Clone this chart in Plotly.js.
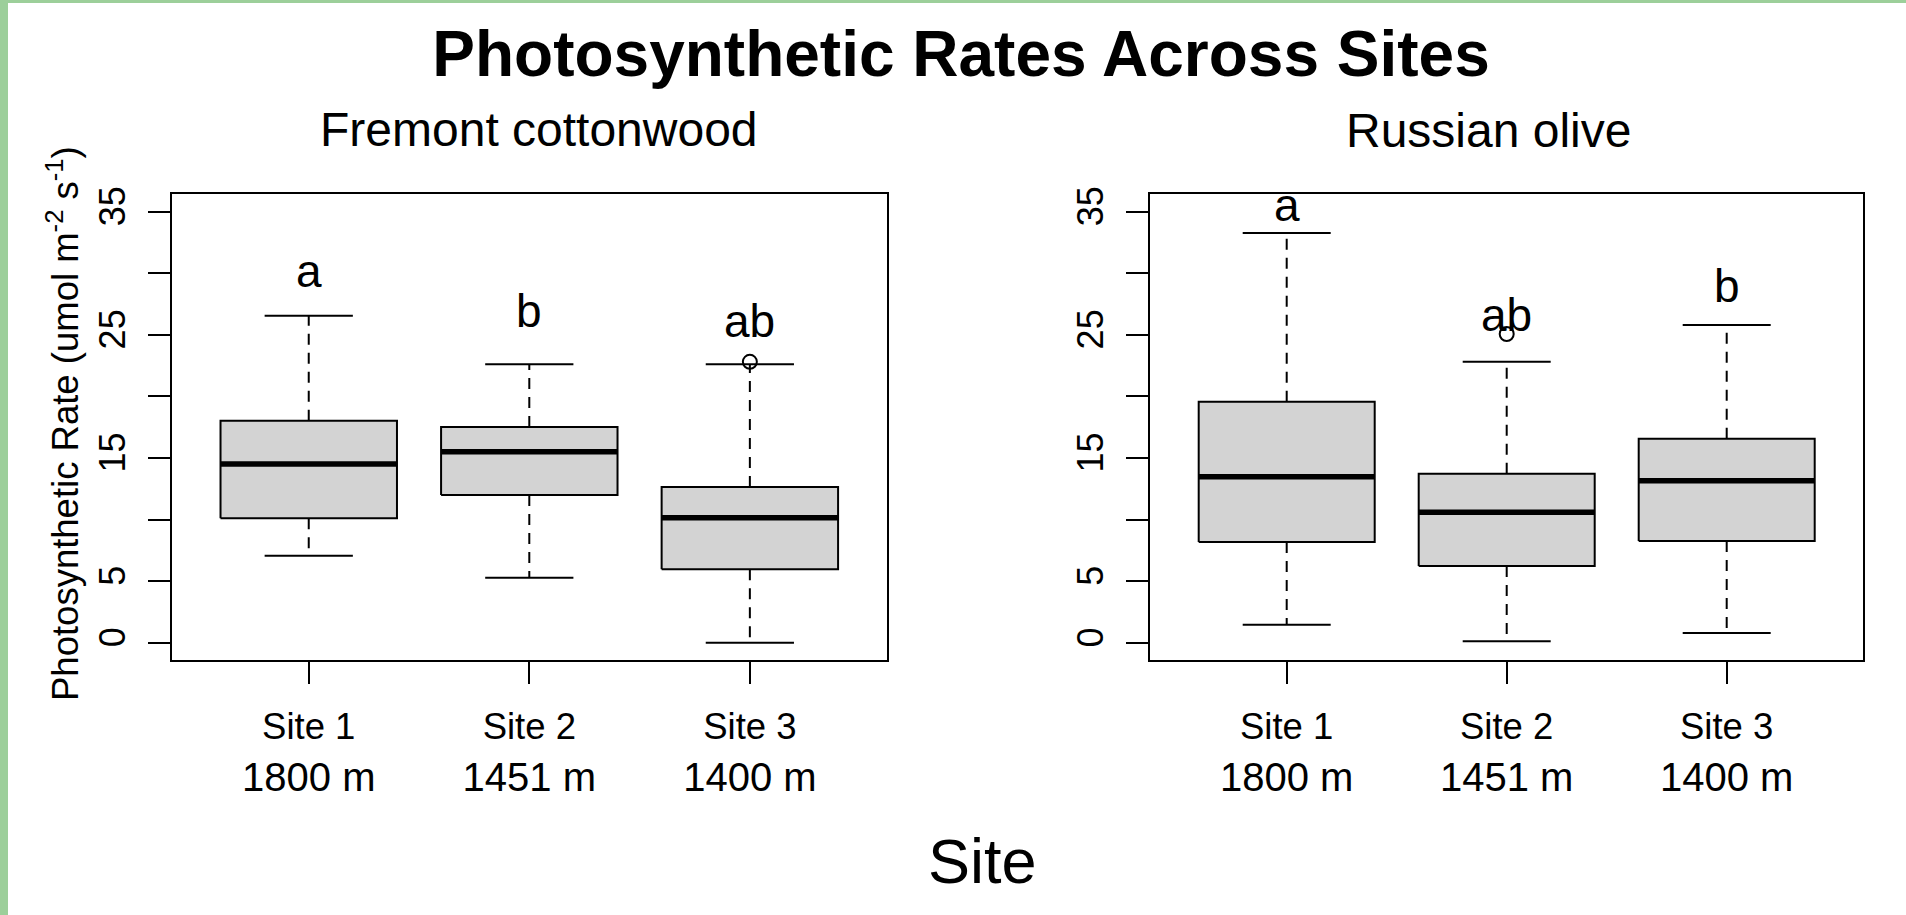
<!DOCTYPE html>
<html>
<head>
<meta charset="utf-8">
<script src="https://cdn.plot.ly/plotly-3.0.1.min.js"></script>
<style>
  html, body { margin: 0; padding: 0; background: #ffffff; }
  #chart { width: 1906px; height: 915px; }
</style>
</head>
<body>
<div id="chart"></div>
<script>
// Site categories and elevations (x tick labels)
const sites = ['Site 1', 'Site 2', 'Site 3'];
const elevations = ['1800 m', '1451 m', '1400 m'];
const sitePos = [1, 2, 3];

// Fremont cottonwood: five-number summaries per site
const fcLower  = [7.07, 5.28, 0.00];
const fcQ1     = [10.10, 11.99, 5.96];
const fcMedian = [14.51, 15.51, 10.15];
const fcQ3     = [18.02, 17.51, 12.64];
const fcUpper  = [26.55, 22.60, 22.60];
const fcOutliers = [[], [], [22.80]];
const fcLetters = ['a', 'b', 'ab'];
const fcLetterY = [30.15, 26.96, 26.09];

// Russian olive: five-number summaries per site
const roLower  = [1.47, 0.12, 0.79];
const roQ1     = [8.18, 6.23, 8.26];
const roMedian = [13.48, 10.59, 13.15];
const roQ3     = [19.57, 13.72, 16.56];
const roUpper  = [33.26, 22.81, 25.79];
const roOutliers = [[], [25.06], []];
const roLetters = ['a', 'ab', 'b'];
const roLetterY = [35.56, 26.64, 28.93];

// y ticks every 5; labelled ticks and unlabelled ones in between
const yLabelVals = [0, 5, 15, 25, 35];
const yPlainVals = [10, 20, 30];

const FONT = 'Liberation Sans, Arial, Helvetica, sans-serif';
const BOX_HALF = 0.4;     // box width 0.8
const STAPLE_HALF = 0.2;  // staple half the box width
const BOX_FILL = '#d3d3d3';

function panelTraces(xa, ya, lower, q1, med, q3, upper, outliers) {
  const wx = [], wy = [], sx = [], sy = [], bx = [], by = [], mx = [], my = [], ox = [], oy = [];
  sitePos.forEach((p, i) => {
    wx.push(p, p, null, p, p, null);
    wy.push(q3[i], upper[i], null, q1[i], lower[i], null);
    sx.push(p - STAPLE_HALF, p + STAPLE_HALF, null, p - STAPLE_HALF, p + STAPLE_HALF, null);
    sy.push(upper[i], upper[i], null, lower[i], lower[i], null);
    bx.push(p - BOX_HALF, p + BOX_HALF, p + BOX_HALF, p - BOX_HALF, p - BOX_HALF, null);
    by.push(q1[i], q1[i], q3[i], q3[i], q1[i], null);
    mx.push(p - BOX_HALF, p + BOX_HALF, null);
    my.push(med[i], med[i], null);
    outliers[i].forEach(v => { ox.push(p); oy.push(v); });
  });
  const common = { xaxis: xa, yaxis: ya, hoverinfo: 'skip', showlegend: false };
  return [
    Object.assign({ type: 'scatter', mode: 'lines', x: wx, y: wy,
      line: { color: '#000', width: 2, dash: '11px,8px' } }, common),
    Object.assign({ type: 'scatter', mode: 'lines', x: sx, y: sy,
      line: { color: '#000', width: 2 } }, common),
    Object.assign({ type: 'scatter', mode: 'lines', x: bx, y: by, fill: 'toself',
      fillcolor: BOX_FILL, line: { color: '#000', width: 2 } }, common),
    Object.assign({ type: 'scatter', mode: 'lines', x: mx, y: my,
      line: { color: '#000', width: 5.5 } }, common),
    Object.assign({ type: 'scatter', mode: 'markers', x: ox, y: oy,
      marker: { symbol: 'circle-open', size: 14, color: '#000', line: { width: 2, color: '#000' } } }, common)
  ];
}

const data = [].concat(
  panelTraces('x', 'y', fcLower, fcQ1, fcMedian, fcQ3, fcUpper, fcOutliers),
  panelTraces('x2', 'y2', roLower, roQ1, roMedian, roQ3, roUpper, roOutliers)
);

const W = 1906, H = 915;
const xTickText = sites.map((s, i) =>
  '<span style="font-size:36.5px">' + s + '</span><br>' + elevations[i]);

function xAxis(domain, anchor) {
  return {
    domain: domain, anchor: anchor, range: [0.38, 3.62],
    tickmode: 'array', tickvals: sitePos, ticktext: xTickText,
    ticks: 'outside', ticklen: 22, tickwidth: 2, tickcolor: '#000',
    tickfont: { family: FONT, size: 40, color: '#000' },
    ticklabelstandoff: 7,
    showline: true, mirror: true, linewidth: 2, linecolor: '#000',
    showgrid: false, zeroline: false, fixedrange: true
  };
}
function yAxis(domain, anchor) {
  return {
    domain: domain, anchor: anchor, range: [-1.4, 36.4],
    tickmode: 'array', tickvals: yLabelVals, ticktext: yLabelVals.map(String),
    tickangle: -90,
    ticks: 'outside', ticklen: 22, tickwidth: 2, tickcolor: '#000',
    minor: { tickmode: 'array', tickvals: yPlainVals, ticks: 'outside',
             ticklen: 22, tickwidth: 2, tickcolor: '#000', showgrid: false },
    tickfont: { family: FONT, size: 36, color: '#000' },
    ticklabelstandoff: 9,
    showline: true, mirror: true, linewidth: 2, linecolor: '#000',
    showgrid: false, zeroline: false, fixedrange: true
  };
}

const yDom = [1 - 660 / H, 1 - 194.3 / H];

const annotations = [
  { text: 'Fremont cottonwood', xref: 'paper', yref: 'paper', x: 539 / W, y: 1 - 129.9 / H,
    xanchor: 'center', yanchor: 'middle', showarrow: false, font: { family: FONT, size: 48, color: '#000' } },
  { text: 'Russian olive', xref: 'paper', yref: 'paper', x: 1488.8 / W, y: 1 - 130.6 / H,
    xanchor: 'center', yanchor: 'middle', showarrow: false, font: { family: FONT, size: 48, color: '#000' } },
  { text: 'Site', xref: 'paper', yref: 'paper', x: 982 / W, y: 1 - 861.4 / H,
    xanchor: 'center', yanchor: 'middle', showarrow: false, font: { family: FONT, size: 63, color: '#000' } },
  { text: 'Photosynthetic Rate (umol m<sup>-2</sup> s<sup>-1</sup>)', xref: 'paper', yref: 'paper',
    x: 63 / W, y: 1 - 424 / H, textangle: -90, xanchor: 'center', yanchor: 'middle',
    showarrow: false, font: { family: FONT, size: 36.5, color: '#000' } }
];
fcLetters.forEach((t, i) => annotations.push({
  text: t, xref: 'x', yref: 'y', x: sitePos[i], y: fcLetterY[i], showarrow: false,
  xanchor: 'center', yanchor: 'middle', font: { family: FONT, size: 46, color: '#000' } }));
roLetters.forEach((t, i) => annotations.push({
  text: t, xref: 'x2', yref: 'y2', x: sitePos[i], y: roLetterY[i], showarrow: false,
  xanchor: 'center', yanchor: 'middle', font: { family: FONT, size: 46, color: '#000' } }));

const layout = {
  width: W, height: H,
  margin: { l: 0, r: 0, t: 0, b: 0, pad: 0 },
  paper_bgcolor: '#ffffff', plot_bgcolor: '#ffffff',
  showlegend: false,
  title: {
    text: 'Photosynthetic Rates Across Sites',
    font: { family: FONT, size: 64, color: '#000', weight: 'bold' },
    x: 961 / W, xref: 'paper', xanchor: 'center',
    y: 1 - 53.5 / H, yref: 'container', yanchor: 'middle'
  },
  xaxis: xAxis([172 / W, 886.6 / W], 'y'),
  yaxis: yAxis(yDom, 'x'),
  xaxis2: xAxis([1150.3 / W, 1863.1 / W], 'y2'),
  yaxis2: yAxis(yDom, 'x2'),
  annotations: annotations,
  shapes: [
    // slide frame accents
    { type: 'rect', xref: 'paper', yref: 'paper', x0: 0, x1: 8 / W, y0: 0, y1: 1,
      fillcolor: '#9ccf9a', line: { width: 0 }, layer: 'below' },
    { type: 'rect', xref: 'paper', yref: 'paper', x0: 0, x1: 1, y0: 1 - 3 / H, y1: 1,
      fillcolor: '#9ccf9a', line: { width: 0 }, layer: 'below' }
  ]
};

Plotly.newPlot('chart', data, layout, { displayModeBar: false, staticPlot: true });
</script>
</body>
</html>
